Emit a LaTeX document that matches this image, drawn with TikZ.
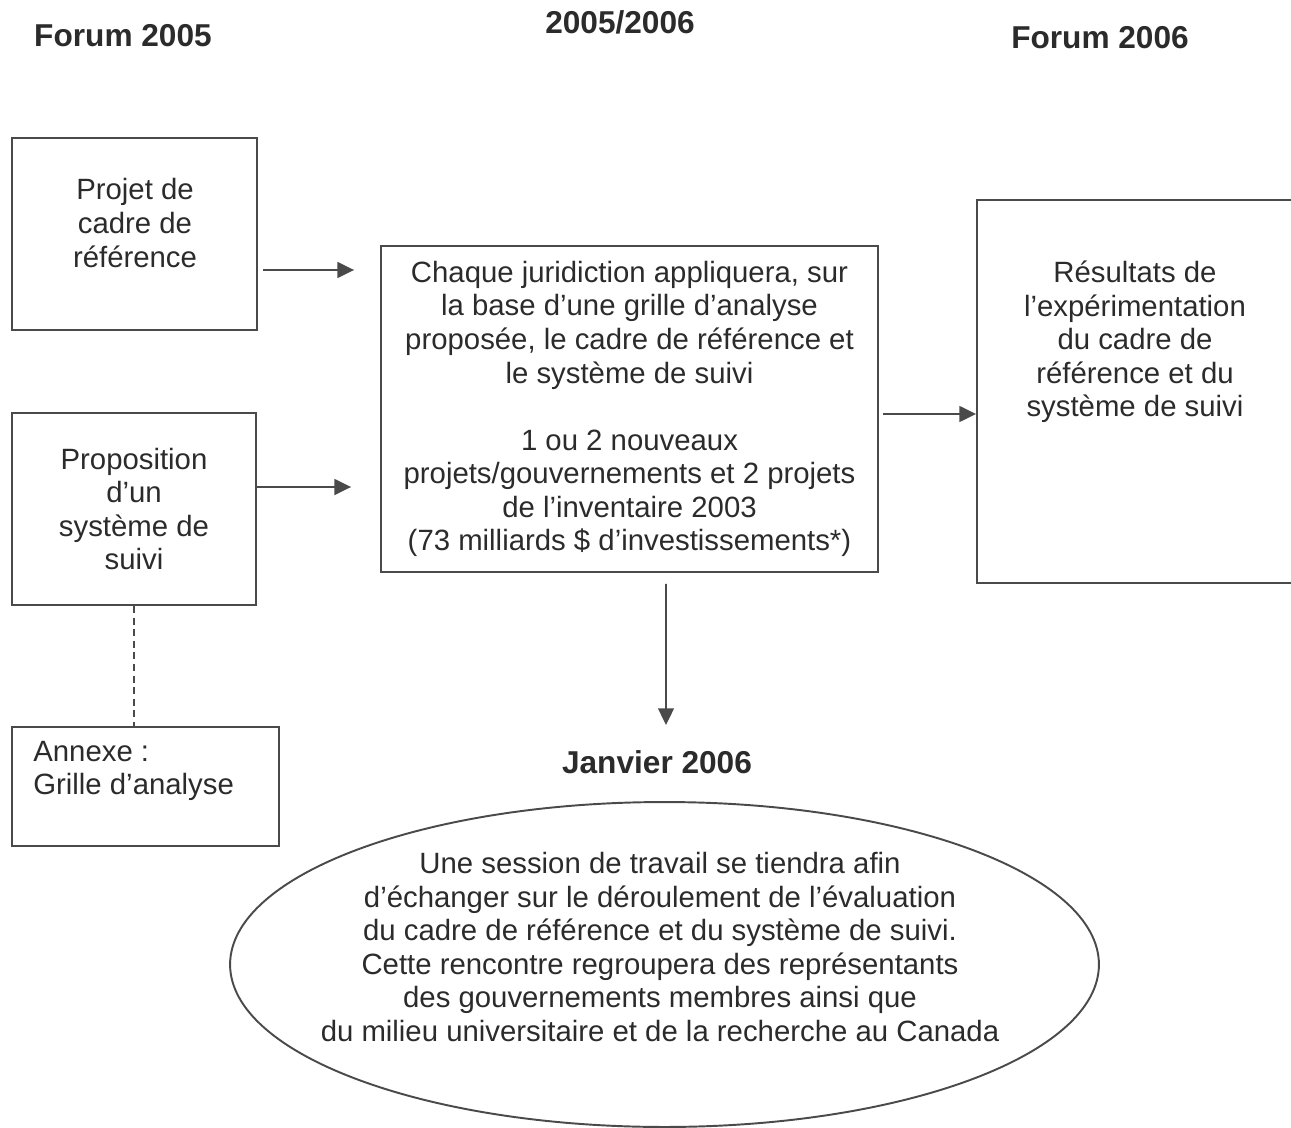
\documentclass[tikz,border=0pt]{standalone}
\usepackage{fontspec}
\setmainfont{Liberation Sans}
\usetikzlibrary{arrows.meta,calc,shapes.geometric}
\definecolor{ink}{HTML}{2B2B2B}
\definecolor{edge}{HTML}{4A4A4A}
\begin{document}
\begin{tikzpicture}[x=0.02cm,y=-0.02cm,
  every node/.style={text=ink,font=\fontsize{16.7}{19.1}\selectfont,align=center},
  box/.style={draw=edge,line width=1.1pt,rectangle,inner sep=0pt},
  head/.style={font=\fontsize{18}{21}\selectfont\bfseries},
  arr/.style={draw=edge,line width=1.1pt,-{Triangle[length=9.5pt,width=9pt]}}]
\useasboundingbox (0,0) rectangle (1291,1128);
\node[head] (h1) at (123,36) {Forum 2005};
\node[head] (h2) at (620,22) {2005/2006};
\node[head] (h3) at (1100,38) {Forum 2006};
\node[box,minimum width=4.9cm,minimum height=3.84cm] (A) at (134.5,234) {};
\node (Atext) at (135,223) {Projet de\\cadre de\\référence};
\node[box,minimum width=4.88cm,minimum height=3.84cm] (B) at (134,509) {Proposition\\d'un\\système de\\suivi};
\node[box,minimum width=9.94cm,minimum height=6.52cm] (C) at (629.5,409) {Chaque juridiction appliquera, sur\\la base d'une grille d'analyse\\proposée, le cadre de référence et\\le système de suivi\\[0.67cm]1 ou 2 nouveaux\\projets/gouvernements et 2 projets\\de l'inventaire 2003\\(73 milliards \$ d'investissements*)};
\node[box,minimum width=6.66cm,minimum height=7.66cm] (D) at (1143.5,391.5) {};
\node (Dtext) at (1135,342) {Résultats de\\l'expérimentation\\du cadre de\\référence et du\\système de suivi};
\node[box,minimum width=5.34cm,minimum height=2.38cm] (E) at (145.5,786.5) {};
\node[anchor=west,inner sep=0pt,align=left] (Etext) at (33,771) {Annexe :\\Grille d'analyse};
\node[head] (Jan) at (657,762) {Janvier 2006};
\node[draw=edge,line width=1.1pt,ellipse,inner sep=0pt,minimum width=17.38cm,minimum height=6.5cm] (F) at (664.5,964.5) {};
\node (Ftext) at (660,947) {Une session de travail se tiendra afin\\d'échanger sur le déroulement de l'évaluation\\du cadre de référence et du système de suivi.\\Cette rencontre regroupera des représentants\\des gouvernements membres ainsi que\\du milieu universitaire et de la recherche au Canada};
\coordinate (Jtop) at (666,725);
\path[arr,shorten <=3,shorten >=0.52cm] ($(A.east)+(0,36)$) -- ($(A.east -| C.west)+(0,36)$);
\path[arr,shorten >=0.58cm] ($(B.east)+(0,-22)$) -- ($(B.east -| C.west)+(0,-22)$);
\path[arr,shorten <=0.08cm] ($(C.east)+(0,5)$) -- ($(C.east -| D.west)+(0,5)$);
\path[arr,shorten <=0.22cm] ($(C.south)+(36.5,0)$) -- (Jtop);
\path[draw=edge,line width=1.1pt,dash pattern=on 4pt off 2.6pt] (B.south) -- (B.south |- E.north);
\end{tikzpicture}
\end{document}
